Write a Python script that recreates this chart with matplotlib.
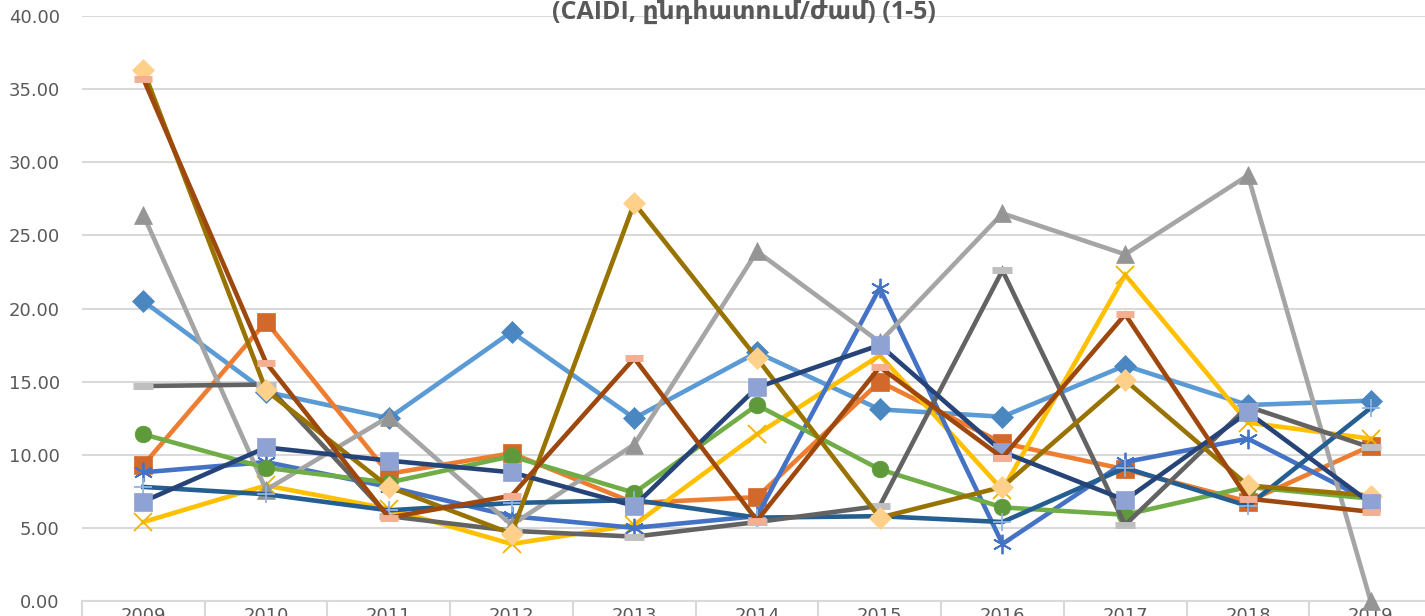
import matplotlib
matplotlib.use("Agg")
import matplotlib.pyplot as plt
import numpy as np

years = ["2009", "2010", "2011", "2012", "2013", "2014", "2015", "2016", "2017", "2018", "2019"]
title = "(CAIDI, ընդհատում/ժամ) (1-5)"

s1 = [20.5, 14.3, 12.5, 18.4, 12.5, 17.0, 13.1, 12.6, 16.1, 13.4, 13.7]
s2 = [9.3, 19.1, 8.7, 10.1, 6.7, 7.1, 15.0, 10.8, 9.0, 6.8, 10.6]
s3 = [26.4, 7.6, 12.6, 5.2, 10.7, 23.9, 17.7, 26.5, 23.7, 29.1, 0.0]
s4 = [5.4, 7.9, 6.3, 3.9, 5.2, 11.4, 16.8, 7.6, 22.3, 12.2, 11.1]
s5 = [8.8, 9.5, 7.8, 5.8, 5.0, 5.8, 21.4, 3.9, 9.5, 11.1, 6.8]
s6 = [11.4, 9.1, 8.1, 9.9, 7.4, 13.4, 9.0, 6.4, 5.9, 7.8, 7.0]
s7 = [7.8, 7.3, 6.2, 6.7, 6.9, 5.7, 5.8, 5.4, 9.1, 6.5, 13.2]
s8 = [14.7, 14.8, 5.8, 4.8, 4.4, 5.4, 6.5, 22.6, 5.2, 13.3, 10.5]
s9 = [36.3, 14.4, 7.8, 4.6, 27.2, 16.6, 5.7, 7.8, 15.1, 7.9, 7.2]
s10 = [6.8, 10.5, 9.6, 8.8, 6.5, 14.6, 17.5, 10.2, 6.9, 12.9, 6.7]
s11 = [35.7, 16.3, 5.7, 7.2, 16.6, 5.5, 16.0, 9.8, 19.6, 7.0, 6.1]

series = [s1, s2, s3, s4, s5, s6, s7, s8, s9, s10, s11]
line_colors = ["#5B9BD5", "#ED7D31", "#A5A5A5", "#FFC000", "#4472C4", "#70AD47",
               "#255E91", "#636363", "#997300", "#264478", "#9E480E"]
marker_colors = ["#4A86C0", "#D2692A", "#959595", "#F0B400", "#4472C4", "#5E9A3A",
                 "#8FB4E3", "#BFBFBF", "#FFD08A", "#8FA2D4", "#F4AE92"]
markers = ["D", "s", "^", "x", (6, 2, 0), "o", "+", "_", "D", "s", "_"]
msizes = [11, 13, 13, 13, 14, 12, 13, 14, 11, 13, 13]
zorders = [3, 4, 6, 5, 5.5, 7, 8, 9, 10, 11, 12]

fig = plt.figure(figsize=(14.25, 6.16), dpi=100)
ax = fig.add_axes([82/1425, 15/616, 1350/1425, 585/616])

x = np.arange(len(years))
for vals, lc, mc, mk, ms, zo in zip(series, line_colors, marker_colors, markers, msizes, zorders):
    kw = dict(color=lc, lw=3.3, marker=mk, markersize=ms, clip_on=False,
              solid_joinstyle="miter", zorder=zo)
    if mk in ("x", "+") or isinstance(mk, tuple):
        kw.update(markeredgecolor=mc, markerfacecolor=mc, markeredgewidth=1.3)
    elif mk == "_":
        kw.update(markeredgecolor=mc, markeredgewidth=5)
    else:
        kw.update(markeredgecolor=mc, markerfacecolor=mc, markeredgewidth=0.5)
    ax.plot(x, vals, **kw)

ax.set_xlim(-0.5, len(years) - 0.5)
ax.set_ylim(0, 40)
ax.set_yticks(np.arange(0, 40.01, 5))
ax.set_yticklabels([f"{v:.2f}" for v in np.arange(0, 40.01, 5)])
ax.set_xticks(x)
ax.set_xticklabels(years)
ax.set_xticks(np.arange(-0.5, len(years), 1), minor=True)

ax.grid(axis="y", color="#D9D9D9", lw=1.5, zorder=0)
ax.set_axisbelow(True)
for sp in ["top", "right", "left"]:
    ax.spines[sp].set_visible(False)
ax.spines["bottom"].set_color("#D9D9D9")
ax.spines["bottom"].set_linewidth(1.5)

ax.tick_params(axis="y", length=0, pad=16, labelsize=13, labelcolor="#595959")
ax.tick_params(axis="x", which="major", length=0, pad=4, labelsize=13, labelcolor="#595959")
ax.tick_params(axis="x", which="minor", length=15, width=1.5, color="#D9D9D9")

fig.text(744/1425, 1 - 12/616, title, ha="center", va="center", fontsize=18,
         fontweight="bold", color="#595959", family=["Open Sans", "DejaVu Sans"])

fig.savefig("out.png", dpi=100)
